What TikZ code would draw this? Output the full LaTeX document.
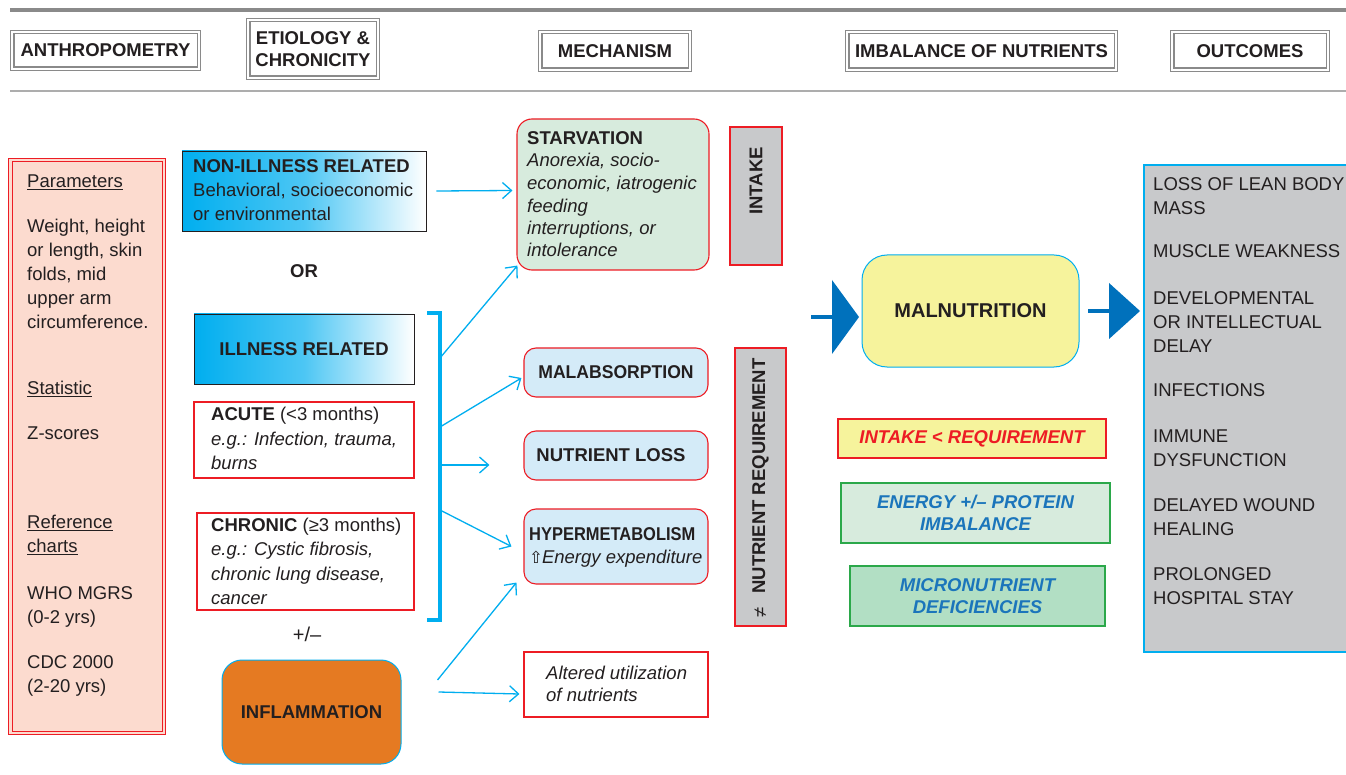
\documentclass[tikz,border=0pt]{standalone}
\usepackage{fontspec}
\setmainfont{Liberation Sans}
\newfontfamily\dejavu{DejaVu Sans}
\usetikzlibrary{arrows.meta}
\definecolor{cyanb}{HTML}{00AEEF}
\definecolor{darkb}{HTML}{0071BC}
\definecolor{salmonf}{HTML}{FCDBCF}
\definecolor{redb}{HTML}{ED1C24}
\definecolor{greyf}{HTML}{C8C9CB}
\definecolor{greenf}{HTML}{D7EBDD}
\definecolor{greenf2}{HTML}{B2DFC4}
\definecolor{greenb}{HTML}{2BA84A}
\definecolor{bluef}{HTML}{D4EBF8}
\definecolor{yellowf}{HTML}{F6F39C}
\definecolor{orangef}{HTML}{E57A22}
\definecolor{textc}{HTML}{231F20}
\definecolor{hdrgray}{HTML}{8A8A8A}
\definecolor{bluet}{HTML}{1B75BB}
\newcommand\myfs{\fontsize{18.5}{24}\selectfont}
\tikzset{
  every node/.style={text=textc},
  hdr/.style={draw=hdrgray, line width=1.1pt, inner sep=0pt, font=\bfseries\myfs, align=center},
  bx/.style={inner sep=0pt},
  tl/.style={anchor=base west, inner sep=0pt, font=\myfs},
  tc/.style={inner sep=0pt, font=\bfseries\myfs, align=center},
  grad/.style={draw=textc, line width=0.9pt, left color=cyanb, right color=white, middle color=cyanb!70!white},
  redbox/.style={draw=redb, line width=1.1pt, fill=white},
  mech/.style={draw=redb, line width=1.1pt, rounded corners=12pt},
  sidebar/.style={draw=redb, line width=2.5pt, fill=greyf},
  arr/.style={draw=cyanb, line width=1.3pt, -{Straight Barb[length=9pt,width=16pt,line width=1.3pt]}},
  inner4/.style={draw=hdrgray, line width=1.1pt},
}
\newcommand\innerframe[3]{% node, inset, style
  \draw[#3] ([xshift=#2pt,yshift=-#2pt]#1.north west) rectangle ([xshift=-#2pt,yshift=#2pt]#1.south east);}
\begin{document}
\begin{tikzpicture}[x=1pt,y=-1pt]
\useasboundingbox (0,0) rectangle (1346,775);
\fill[white] (0,0) rectangle (1346,775);
% top rules
\draw[line width=4pt, hdrgray] (10,10) -- (1346,10);
\draw[line width=1.8pt, hdrgray!70] (10,91) -- (1346,91);
% headers
\node[hdr, minimum width=190pt, minimum height=40pt] (hanth) at (105.5,50.5) {ANTHROPOMETRY};
\innerframe{hanth}{4}{inner4}
\node[hdr, minimum width=133pt, minimum height=61pt, font=\bfseries\fontsize{18.5}{22}\selectfont] (hetio) at (313,49) {ETIOLOGY \&\\CHRONICITY};
\innerframe{hetio}{4}{inner4}
\node[hdr, minimum width=153pt, minimum height=41pt] (hmech) at (615,51) {MECHANISM};
\innerframe{hmech}{4}{inner4}
\node[hdr, minimum width=272pt, minimum height=41pt] (himb) at (981.5,51) {IMBALANCE OF NUTRIENTS};
\innerframe{himb}{4}{inner4}
\node[hdr, minimum width=159pt, minimum height=41pt] (hout) at (1250,51) {OUTCOMES};
\innerframe{hout}{4}{inner4}

% left panel
\node[bx, draw=redb, line width=1pt, fill=salmonf, minimum width=157pt, minimum height=576pt] (anth) at (87,446.5) {};
\innerframe{anth}{4}{draw=redb, line width=1pt}
\node[tl] (p1) at (27,188) {\underline{Parameters}};
\node[tl] at (27,232.5) {Weight, height};
\node[tl] at (27,256.5) {or length, skin};
\node[tl] at (27,280.5) {folds, mid};
\node[tl] at (27,304.5) {upper arm};
\node[tl] at (27,328.5) {circumference.};
\node[tl] at (27,394.5) {\underline{Statistic}};
\node[tl] at (27,439.5) {Z-scores};
\node[tl] at (27,528.5) {\underline{Reference}};
\node[tl] at (27,552.5) {\underline{charts}};
\node[tl] at (27,599.5) {WHO MGRS};
\node[tl] at (27,623.5) {(0-2 yrs)};
\node[tl] at (27,668.5) {CDC 2000};
\node[tl] at (27,692.5) {(2-20 yrs)};

% etiology column
\node[bx, grad, minimum width=244pt, minimum height=80pt] (nonill) at (304,191) {};
\node[tl, font=\bfseries\myfs] at (193,172.5) {NON-ILLNESS RELATED};
\node[tl] at (193,196.5) {Behavioral, socioeconomic};
\node[tl] at (193,220.5) {or environmental};
\node[tc] (or) at (304,271) {OR};
\node[bx, grad, minimum width=220pt, minimum height=70pt] (ill) at (304,349) {};
\node[tc] at (ill.center) {ILLNESS RELATED};
\node[bx, redbox, minimum width=220pt, minimum height=76pt] (acute) at (304,440) {};
\node[tl] at (211,420.5) {\textbf{ACUTE} (<3 months)};
\node[tl] at (211,445.5) {\itshape e.g.: Infection, trauma,};
\node[tl] at (211,469.5) {\itshape burns};
\node[bx, redbox, minimum width=217pt, minimum height=97pt] (chronic) at (305.5,561.5) {};
\node[tl] at (211,531.5) {\textbf{CHRONIC} (≥3 months)};
\node[tl] at (211,555.5) {\itshape e.g.: Cystic fibrosis,};
\node[tl] at (211,580.5) {\itshape chronic lung disease,};
\node[tl] at (211,604.5) {\itshape cancer};
\node[inner sep=0pt, font=\fontsize{20}{24}\selectfont] (pm) at (307,634) {+/–};
\node[bx, draw=cyanb, line width=1pt, fill=orangef, rounded corners=20pt, minimum width=179pt, minimum height=104pt] (infl) at (311.5,712) {};
\node[tc] at (infl.center) {INFLAMMATION};

% bracket
\draw[cyanb, line width=4pt] (427,313) -- (440,313) coordinate (btop) -- (440,620) -- (427,620);
\coordinate (b1) at (440,358);
\coordinate (b2) at (440,427);
\coordinate (b3) at (440,465);
\coordinate (b4) at (440,510);

% mechanism column
\node[bx, mech, fill=greenf, minimum width=192pt, minimum height=151pt, rounded corners=15pt] (starv) at (613,194.5) {};
\node[tl, font=\bfseries\myfs] at (527,144.5) {STARVATION};
\node[tl, font=\itshape\myfs] at (527,166.5) {Anorexia, socio-};
\node[tl, font=\itshape\myfs] at (527,189.5) {economic, iatrogenic};
\node[tl, font=\itshape\myfs] at (527,212.5) {feeding};
\node[tl, font=\itshape\myfs] at (527,234.5) {interruptions, or};
\node[tl, font=\itshape\myfs] at (527,256.5) {intolerance};
\node[bx, mech, fill=bluef, minimum width=184pt, minimum height=49pt] (malab) at (616,372.5) {};
\node[tc] at (malab.center) {\scalebox{0.95}[1]{MALABSORPTION}};
\node[bx, mech, fill=bluef, minimum width=184pt, minimum height=49pt] (nloss) at (616,455.5) {};
\node[tc] at (611,455.5) {NUTRIENT LOSS};
\node[bx, mech, fill=bluef, minimum width=184pt, minimum height=75pt] (hyper) at (616,546.5) {};
\node[tl, font=\bfseries\myfs] at (529,540.5) {\scalebox{0.89}[1]{HYPERMETABOLISM}};
\node[tl, font=\itshape\myfs] at (529,563.5) {{\dejavu\fontsize{16.5}{20}\selectfont ⇧}\kern-1pt Energy expenditure};
\node[bx, redbox, minimum width=184pt, minimum height=65pt] (alt) at (616,684.5) {};
\node[tl, font=\itshape\myfs] at (546,679.5) {Altered utilization};
\node[tl, font=\itshape\myfs] at (546,701.5) {of nutrients};

% side bars
\node[bx, sidebar, minimum width=52pt, minimum height=138pt] (intake) at (756,196) {};
\node[tc, rotate=90] at (756,181) {INTAKE};
\node[bx, sidebar, minimum width=51pt, minimum height=278pt] (nreq) at (760.5,487) {};
\node[tc, rotate=90] at (760.5,476) {NUTRIENT REQUIREMENT};
\node[inner sep=0pt, rotate=90, font=\myfs] at (760.5,612) {≠};

% arrows etiology -> mechanism
\draw[arr] ([xshift=10pt]nonill.east) -- ([xshift=-4pt,yshift=4pt]starv.west);
\draw[arr] (b1) -- ([xshift=1pt,yshift=5pt]starv.south west);
\draw[arr] (b2) -- ([xshift=-2pt,yshift=-5.5pt]malab.west);
\draw[arr] (b3) -- ([xshift=-34pt,yshift=-9.5pt]nloss.west);
\draw[arr] (b4) -- ([xshift=-12pt]hyper.west);
\draw[arr] ([xshift=36pt,yshift=32pt]infl.east) -- ([xshift=-7pt,yshift=2pt]hyper.south west);
\draw[arr] ([xshift=37pt,yshift=20pt]infl.east) -- ([xshift=-4pt,yshift=-9.5pt]alt.west);

% malnutrition
\node[bx, draw=cyanb, line width=1pt, fill=yellowf, rounded corners=25pt, minimum width=217pt, minimum height=112pt] (maln) at (970.5,311) {};
\node[tc, font=\bfseries\fontsize{20}{24}\selectfont] at (maln.center) {MALNUTRITION};
\draw[darkb, line width=4pt] (811,317) -- (834,317);
\fill[darkb] (832,280) -- (859,317) -- (832,354) -- cycle;
\draw[darkb, line width=4pt] (1088,311) -- (1111,311);
\fill[darkb] (1109,283) -- (1140,311) -- (1109,339) -- cycle;

% imbalance boxes
\node[bx, draw=redb, line width=1.1pt, fill=yellowf, minimum width=268pt, minimum height=39pt] (ir) at (972,438.5) {};
\node[tc, text=redb, font=\bfseries\itshape\myfs] at (ir.center) {INTAKE < REQUIREMENT};
\node[bx, draw=greenb, line width=1.1pt, fill=greenf, minimum width=269pt, minimum height=60pt] (ep) at (975.5,513) {};
\node[tc, text=bluet, font=\bfseries\itshape\fontsize{18.5}{22}\selectfont] at (ep.center) {ENERGY +/– PROTEIN\\IMBALANCE};
\node[bx, draw=greenb, line width=1.1pt, fill=greenf2, minimum width=255pt, minimum height=60pt] (mn) at (977.5,596) {};
\node[tc, text=bluet, font=\bfseries\itshape\fontsize{18.5}{22}\selectfont] at (mn.center) {MICRONUTRIENT\\DEFICIENCIES};

% outcomes
\node[bx, draw=cyanb, line width=1.5pt, fill=greyf, minimum width=210pt, minimum height=487pt] (outc) at (1249,408.5) {};
\node[tl] at (1153,190.5) {LOSS OF LEAN BODY};
\node[tl] at (1153,214.5) {MASS};
\node[tl] at (1153,257.5) {MUSCLE WEAKNESS};
\node[tl] at (1153,304.5) {DEVELOPMENTAL};
\node[tl] at (1153,328.5) {OR INTELLECTUAL};
\node[tl] at (1153,352.5) {DELAY};
\node[tl] at (1153,396.5) {INFECTIONS};
\node[tl] at (1153,442.5) {IMMUNE};
\node[tl] at (1153,466.5) {DYSFUNCTION};
\node[tl] at (1153,511.5) {DELAYED WOUND};
\node[tl] at (1153,535.5) {HEALING};
\node[tl] at (1153,580.5) {PROLONGED};
\node[tl] at (1153,604.5) {HOSPITAL STAY};
\end{tikzpicture}
\end{document}
